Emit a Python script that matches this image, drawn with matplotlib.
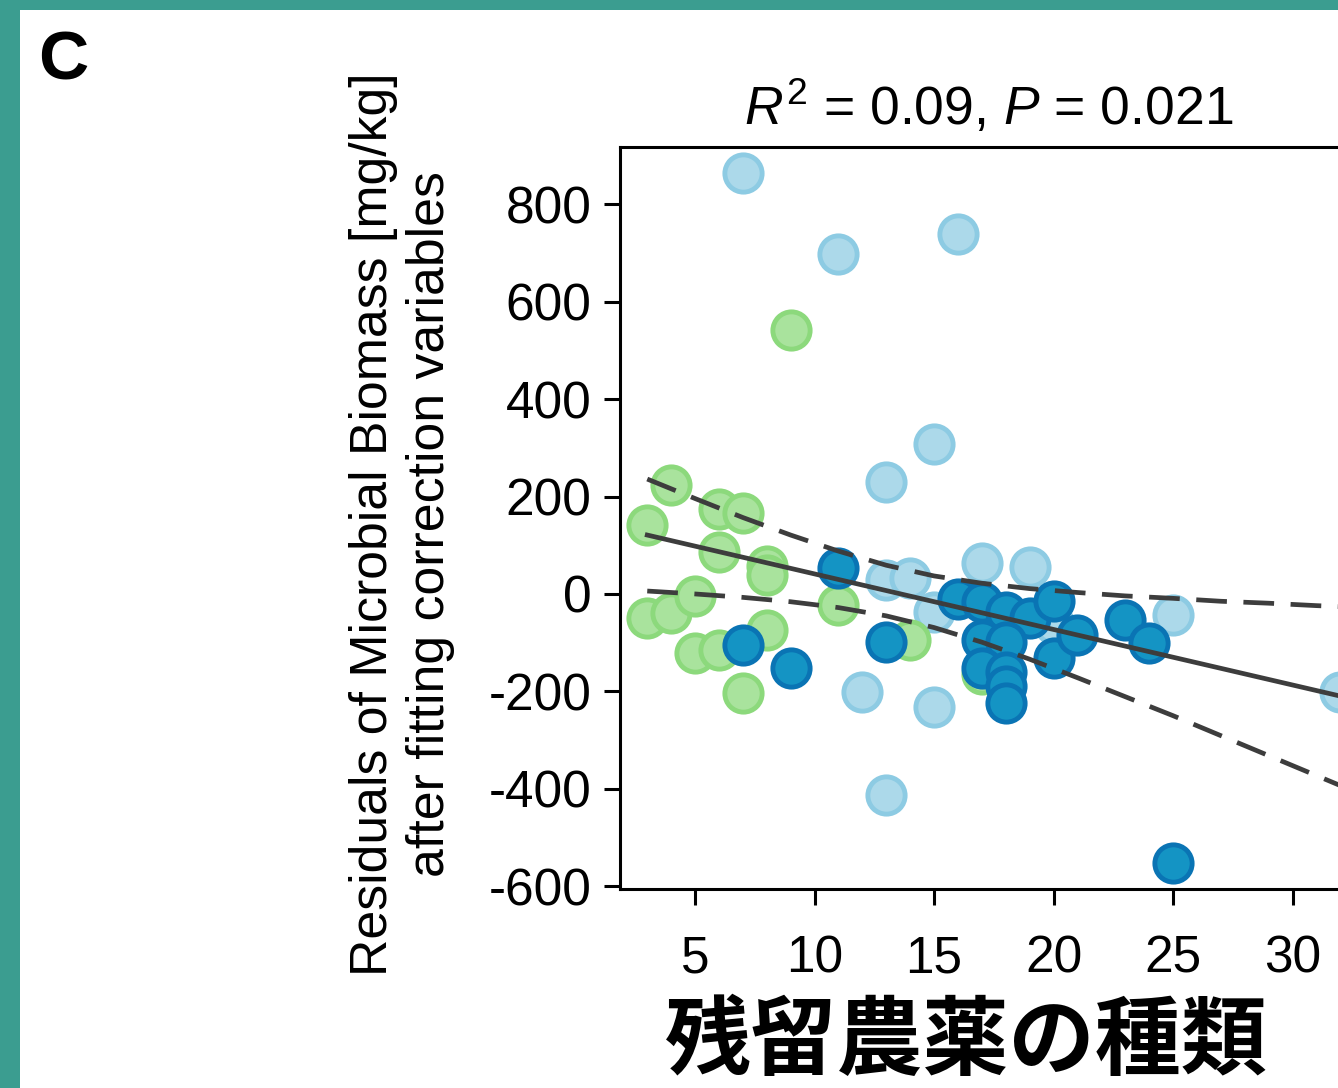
import matplotlib
matplotlib.use('Agg')
import matplotlib.pyplot as plt
from matplotlib.patches import Rectangle

plt.rcParams['font.family'] = ['Liberation Sans', 'DejaVu Sans']
plt.rcParams['mathtext.fontset'] = 'custom'
plt.rcParams['mathtext.rm'] = 'Liberation Sans'
plt.rcParams['mathtext.it'] = 'Liberation Sans:italic'
plt.rcParams['axes.unicode_minus'] = False

# puntos (número de residuos, residuo de biomasa)
green_x = [3, 3, 4, 4, 5, 5, 6, 6, 6, 7, 7, 8, 8, 8, 9, 11, 14, 17]
green_y = [142, -49, 224, -39, -5, -121, 175, 86, -115, 166, -203, 57, 39, -74, 542, -22, -94, -165]

light_x = [7, 11, 16, 15, 13, 13, 14, 15, 17, 19, 12, 15, 13, 25, 32, 20]
light_y = [864, 698, 739, 308, 230, 29, 33, -37, 64, 55, -201, -232, -413, -43, -201, -62]

dark_x = [7, 9, 11, 13, 16, 17, 18, 19, 20, 17, 18, 17, 18, 18, 18, 20, 21, 23, 24, 25]
dark_y = [-105, -152, 53, -98, -10, -16, -37, -49, -14, -94, -98, -152, -160, -190, -224, -131, -84, -53, -101, -552]

# recta de ajuste e intervalo de confianza
fit_x = [3, 35]
fit_y = [121, -244]
ci_x = [3, 5, 7, 9, 11, 13, 15, 17, 19, 21, 23, 25, 27, 29, 31, 33, 35]
ci_upper = [236, 196, 157, 121, 88, 59, 37, 22, 11, 3, -4, -9, -15, -19, -24, -28, -32]
ci_lower = [6, 0, -7, -16, -28, -45, -69, -99, -134, -172, -211, -250, -291, -332, -373, -414, -455]

fig = plt.figure(figsize=(13.38, 10.88), dpi=100, facecolor='#3b9d90')
fig.patches.append(Rectangle((20 / 1338, 0), 1, 1 - 10 / 1088, transform=fig.transFigure,
                             facecolor='white', edgecolor='none', zorder=-10))

ax = fig.add_axes([620 / 1338, 1 - 889 / 1088, (1412 - 620) / 1338, (889 - 147) / 1088])
ax.set_xlim(1.86, 35)
ax.set_ylim(-606, 918)
ax.set_facecolor('white')

ms = 720
ax.scatter(light_x, light_y, s=ms, facecolor='#acd9ea', edgecolor='#8dcbe3', linewidth=3.5, zorder=2)
ax.scatter(green_x, green_y, s=ms, facecolor='#a9e39d', edgecolor='#8cd97c', linewidth=3.5, zorder=3)
ax.scatter(dark_x, dark_y, s=ms, facecolor='#1494c4', edgecolor='#0a74b4', linewidth=3.5, zorder=4)

ax.plot(fit_x, fit_y, color='#3d3d3d', lw=3.4, zorder=5)
ax.plot(ci_x, ci_upper, color='#3d3d3d', lw=3.4, dashes=(6.5, 3.5), zorder=5)
ax.plot(ci_x, ci_lower, color='#3d3d3d', lw=3.4, dashes=(6.5, 3.5), zorder=5)

ax.set_xticks([5, 10, 15, 20, 25, 30])
ax.set_yticks([-600, -400, -200, 0, 200, 400, 600, 800])
ax.tick_params(axis='both', direction='out', length=11.5, width=2.2, labelsize=37, color='black')
ax.tick_params(axis='x', pad=21)
ax.tick_params(axis='y', pad=9)
for sp in ax.spines.values():
    sp.set_linewidth(2.2)

fig.text(989 / 1338, 1 - 125 / 1088, r'$R^2$ = 0.09, $P$ = 0.021', fontsize=38.5,
         ha='center', va='baseline')
fig.text(402 / 1338, 1 - 524 / 1088,
         'Residuals of Microbial Biomass [mg/kg]\nafter fitting correction variables',
         fontsize=37.3, rotation=90, ha='center', va='center', linespacing=1.2, multialignment='center')
fig.text(966 / 1338, 1 - 1043 / 1088, '残留農薬の種類', fontsize=62, fontweight='bold',
         family=['Noto Sans CJK JP', 'DejaVu Sans'], ha='center', va='center')
fig.text(38 / 1338, 1 - 80 / 1088, 'C', fontsize=50, fontweight='bold', ha='left', va='baseline')

fig.savefig('out.png', dpi=100, facecolor=fig.get_facecolor())
